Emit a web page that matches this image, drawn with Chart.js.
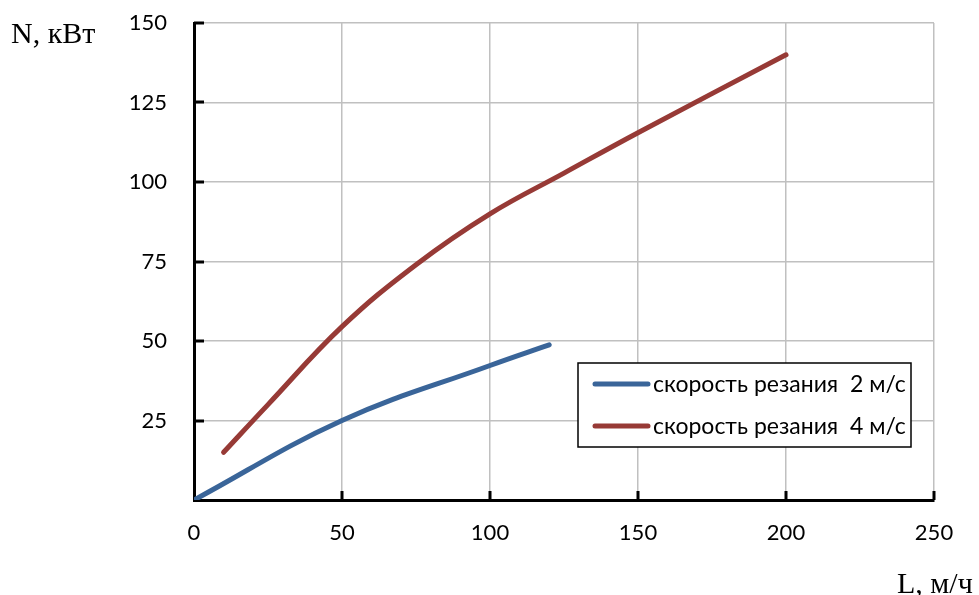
<!DOCTYPE html>
<html>
<head>
<meta charset="utf-8">
<script src="https://cdn.jsdelivr.net/npm/chart.js@4/dist/chart.umd.min.js"></script>
<style>
  html, body { margin: 0; padding: 0; background: #fff; }
  #wrap { position: relative; width: 979px; height: 595px; }
</style>
</head>
<body>
<div id="wrap"><canvas id="c" width="979" height="595"></canvas></div>
<script>
// Data
const seriesLabels = ['скорость резания  2 м/с', 'скорость резания  4 м/с'];
const blueX = [0, 50, 100, 120];
const blueY = [0, 25, 42.3, 48.8];
const redX = [10, 25, 50, 75, 100, 125, 150, 200];
const redY = [15, 30, 54.5, 74, 90, 102.8, 115.5, 140];
const xTicks = [0, 50, 100, 150, 200, 250];
const yTicks = [25, 50, 75, 100, 125, 150];
const yTitle = 'N, кВт';
const xTitle = 'L, м/ч';

const BLUE = '#3a6599';
const RED = '#973a36';
const TICK_FONT = { family: 'Lato', size: 22 };

const toPoints = (xs, ys) => xs.map((x, i) => ({ x: x, y: ys[i] }));

const innerTicks = {
  id: 'innerTicks',
  afterDatasetsDraw(chart) {
    const ctx = chart.ctx, a = chart.chartArea;
    const xs = chart.scales.x, ys = chart.scales.y;
    ctx.save();
    ctx.strokeStyle = '#000';
    ctx.lineWidth = 3;
    ctx.beginPath();
    xTicks.forEach(v => {
      if (v === 0) return;
      const px = Math.round(xs.getPixelForValue(v));
      ctx.moveTo(px, a.bottom);
      ctx.lineTo(px, a.bottom - 9);
    });
    yTicks.forEach(v => {
      const py = Math.round(ys.getPixelForValue(v));
      ctx.moveTo(a.left, py);
      ctx.lineTo(a.left + 10, py);
    });
    ctx.stroke();
    ctx.restore();
  }
};

const titlesAndLegend = {
  id: 'titlesAndLegend',
  afterDraw(chart) {
    const ctx = chart.ctx;
    ctx.save();
    ctx.fillStyle = '#000';
    ctx.font = '30px "Liberation Serif"';
    ctx.textBaseline = 'alphabetic';
    ctx.textAlign = 'left';
    ctx.fillText(yTitle, 11, 43);
    ctx.fillText(xTitle, 897, 593);
    const lx = 578, ly = 363, lw = 333, lh = 84;
    ctx.fillStyle = '#fff';
    ctx.fillRect(lx, ly, lw, lh);
    ctx.strokeStyle = '#000';
    ctx.lineWidth = 1.5;
    ctx.strokeRect(lx, ly, lw, lh);
    const rows = [384, 426];
    chart.data.datasets.forEach((ds, i) => {
      const y = rows[i];
      ctx.strokeStyle = ds.borderColor;
      ctx.lineWidth = 5;
      ctx.lineCap = 'round';
      ctx.beginPath();
      ctx.moveTo(595, y);
      ctx.lineTo(648, y);
      ctx.stroke();
      ctx.fillStyle = '#000';
      ctx.font = '23px Lato';
      ctx.textBaseline = 'middle';
      ctx.fillText(ds.label, 653, y + 1);
    });
    ctx.restore();
  }
};

new Chart(document.getElementById('c'), {
  type: 'line',
  data: {
    datasets: [
      { label: seriesLabels[0], data: toPoints(blueX, blueY), borderColor: BLUE, backgroundColor: BLUE,
        borderWidth: 5, pointRadius: 0, tension: 0.4, borderCapStyle: 'round', fill: false },
      { label: seriesLabels[1], data: toPoints(redX, redY), borderColor: RED, backgroundColor: RED,
        borderWidth: 5, pointRadius: 0, tension: 0.4, borderCapStyle: 'round', fill: false }
    ]
  },
  options: {
    responsive: false,
    animation: false,
    events: [],
    layout: { padding: { left: 0, top: 23, right: 45, bottom: 0 } },
    plugins: { legend: { display: false }, tooltip: { enabled: false }, title: { display: false } },
    scales: {
      x: {
        type: 'linear', min: 0, max: 250,
        afterBuildTicks: s => { s.ticks = xTicks.map(v => ({ value: v })); },
        afterFit: s => { s.height = 95; },
        grid: { color: '#c0c0c0', lineWidth: 1.5, drawTicks: false },
        border: { color: '#000', width: 3 },
        ticks: { color: '#000', font: TICK_FONT, padding: 20, maxRotation: 0 }
      },
      y: {
        type: 'linear', min: 0, max: 150,
        afterBuildTicks: s => { s.ticks = [0].concat(yTicks).map(v => ({ value: v })); },
        afterFit: s => { s.width = 194; s.paddingTop = 12; s.paddingBottom = 12; },
        grid: { color: '#c0c0c0', lineWidth: 1.5, drawTicks: false },
        border: { color: '#000', width: 3 },
        ticks: { color: '#000', font: TICK_FONT, padding: 27, callback: v => (v === 0 ? '' : v) }
      }
    }
  },
  plugins: [innerTicks, titlesAndLegend]
});
</script>
</body>
</html>
